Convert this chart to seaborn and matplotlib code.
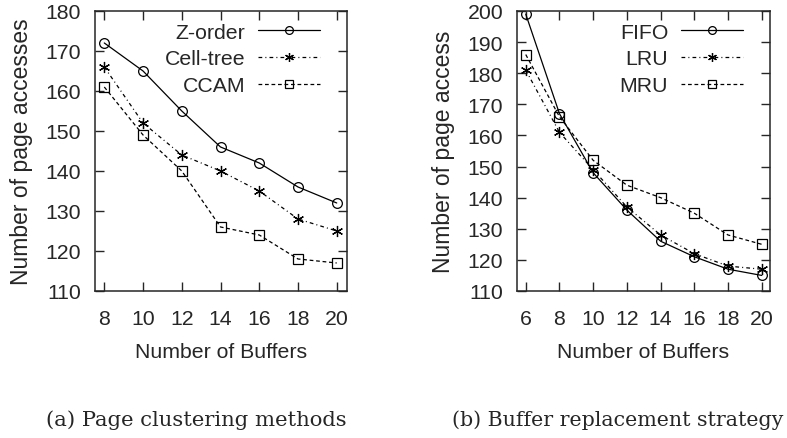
import matplotlib
matplotlib.use("Agg")
import matplotlib.pyplot as plt
import seaborn as sns
import pandas as pd

buffers_a = [8, 10, 12, 14, 16, 18, 20]
zorder = [172, 165, 155, 146, 142, 136, 132]
celltree = [166, 152, 144, 140, 135, 128, 125]
ccam = [161, 149, 140, 126, 124, 118, 117]

buffers_b = [6, 8, 10, 12, 14, 16, 18, 20]
fifo = [199, 167, 148, 136, 126, 121, 117, 115]
lru = [181, 161, 149, 137, 128, 122, 118, 117]
mru = [186, 166, 152, 144, 140, 135, 128, 125]

sns.set_style("ticks")
plt.rcParams['font.family'] = ['Liberation Sans', 'DejaVu Sans']

fig = plt.figure(figsize=(7.87, 4.39), dpi=100)
ax1 = fig.add_axes([0.1207, 0.3349, 0.3202, 0.6378])
ax2 = fig.add_axes([0.6569, 0.3349, 0.3215, 0.6378])

styles = [
    dict(marker='o', ms=7, dashes=None),
    dict(marker=(6, 2, 0), ms=8, dashes=(3, 2.5, 0.8, 2.5)),
    dict(marker='s', ms=7, dashes=(3, 2.2)),
]

def draw(ax, x, series, names):
    for y, name, st in zip(series, names, styles):
        df = pd.DataFrame({'x': x, 'y': y})
        sns.lineplot(data=df, x='x', y='y', ax=ax, color='black', lw=0.9,
                     marker=st['marker'], markersize=st['ms'],
                     markerfacecolor='none', markeredgecolor='black',
                     markeredgewidth=0.9, label=name)
        line = ax.get_lines()[-1]
        if st['dashes'] is not None:
            line.set_dashes(st['dashes'])
    leg = ax.legend(loc='upper right', bbox_to_anchor=(0.893, 0.958),
                    frameon=False, markerfirst=False, fontsize=15.3,
                    handlelength=2.9, handletextpad=0.62, markerscale=0.8,
                    labelspacing=0.36, borderaxespad=0.0, borderpad=0.0)
    for h in leg.get_lines():
        h.set_markerfacecolor('none')
    ax.tick_params(direction='in', top=True, right=True, length=6.5,
                   width=1.0, labelsize=15.3)
    ax.tick_params(axis='x', pad=13)
    ax.tick_params(axis='y', pad=10)
    for s in ax.spines.values():
        s.set_linewidth(1.1)
        s.set_visible(True)
    ax.set_xlabel('Number of Buffers', fontsize=15.3, labelpad=10)

draw(ax1, buffers_a, [zorder, celltree, ccam], ['Z-order', 'Cell-tree', 'CCAM'])
ax1.set_xlim(7.52, 20.53)
ax1.set_ylim(110, 180)
ax1.set_xticks(buffers_a)
ax1.set_yticks(range(110, 181, 10))
ax1.set_ylabel('Number of page accesses', fontsize=16.5, labelpad=9)

draw(ax2, buffers_b, [fifo, lru, mru], ['FIFO', 'LRU', 'MRU'])
ax2.set_xlim(5.48, 20.49)
ax2.set_ylim(110, 200)
ax2.set_xticks(buffers_b)
ax2.set_yticks(range(110, 201, 10))
ax2.set_ylabel('Number of page access', fontsize=16.5, labelpad=9)

fig.text(0.249, 0.0433, '(a) Page clustering methods', ha='center', va='center',
         fontsize=15.2, family=['DejaVu Serif'])
fig.text(0.785, 0.0433, '(b) Buffer replacement strategy', ha='center', va='center',
         fontsize=14.8, family=['DejaVu Serif'])

fig.savefig('out.png', dpi=100)
